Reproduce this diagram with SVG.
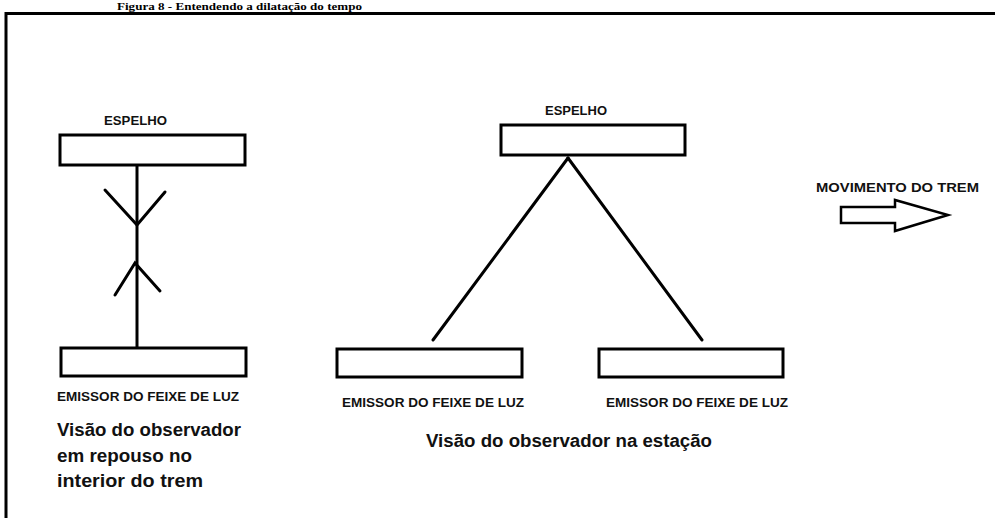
<svg xmlns="http://www.w3.org/2000/svg" width="995" height="518" viewBox="0 0 995 518">
<style>
.box{fill:#fff;stroke:#000;stroke-width:3}
.ln{stroke:#000;stroke-width:3;fill:none;stroke-linecap:round}
.lbl{font-family:"Liberation Sans",Arial,sans-serif;font-weight:bold;font-size:13px;fill:#111}
.cap{font-family:"Liberation Sans",Arial,sans-serif;font-weight:bold;font-size:18px;fill:#111}
.ttl{font-family:"Liberation Serif","Times New Roman",serif;font-weight:bold;font-size:11px;fill:#000}
</style>
<rect width="995" height="518" fill="#fff"/>
<text class="ttl" x="117" y="10" textLength="245" lengthAdjust="spacingAndGlyphs">Figura 8 - Entendendo a dilatação do tempo</text>
<rect x="6" y="13.5" width="1100" height="700" fill="none" stroke="#000" stroke-width="3"/>

<g id="connectors">
  <line class="ln" x1="137" y1="165" x2="137" y2="347" style="stroke-linecap:butt"/>
  <polyline class="ln" points="105,190 137,225 165,192"/>
  <polyline class="ln" points="115,295 135,263 160,291"/>
  <line class="ln" x1="568" y1="158" x2="433" y2="340"/>
  <line class="ln" x1="568" y1="158" x2="702" y2="340"/>
</g>

<g id="mirror-left">
  <rect class="box" x="60" y="135" width="185" height="30"/>
  <text class="lbl" x="104" y="125" textLength="63" lengthAdjust="spacingAndGlyphs">ESPELHO</text>
</g>
<g id="emitter-left">
  <rect class="box" x="61" y="348" width="185" height="28"/>
  <text class="lbl" x="57" y="401" textLength="182" lengthAdjust="spacingAndGlyphs">EMISSOR DO FEIXE DE LUZ</text>
</g>
<g id="caption-left">
  <text class="cap" x="57" y="436" textLength="184" lengthAdjust="spacingAndGlyphs">Visão do observador</text>
  <text class="cap" x="57" y="461.5" textLength="135" lengthAdjust="spacingAndGlyphs">em repouso no</text>
  <text class="cap" x="57" y="487" textLength="146" lengthAdjust="spacingAndGlyphs">interior do trem</text>
</g>

<g id="mirror-station">
  <rect class="box" x="501" y="125" width="184" height="30"/>
  <text class="lbl" x="545" y="115" textLength="62" lengthAdjust="spacingAndGlyphs">ESPELHO</text>
</g>
<g id="emitter-station-1">
  <rect class="box" x="337" y="349" width="185" height="28"/>
  <text class="lbl" x="342" y="407" textLength="182" lengthAdjust="spacingAndGlyphs">EMISSOR DO FEIXE DE LUZ</text>
</g>
<g id="emitter-station-2">
  <rect class="box" x="599" y="349" width="184" height="28"/>
  <text class="lbl" x="606" y="407" textLength="182" lengthAdjust="spacingAndGlyphs">EMISSOR DO FEIXE DE LUZ</text>
</g>
<g id="caption-station">
  <text class="cap" x="426" y="447" textLength="286" lengthAdjust="spacingAndGlyphs">Visão do observador na estação</text>
</g>

<g id="movement">
  <text class="lbl" x="816" y="192" textLength="163" lengthAdjust="spacingAndGlyphs">MOVIMENTO DO TREM</text>
  <polygon points="841,207 895,207 895,200 948,215 895,231 895,223 841,223" fill="#fff" stroke="#000" stroke-width="2.5" stroke-linejoin="miter"/>
</g>
</svg>
